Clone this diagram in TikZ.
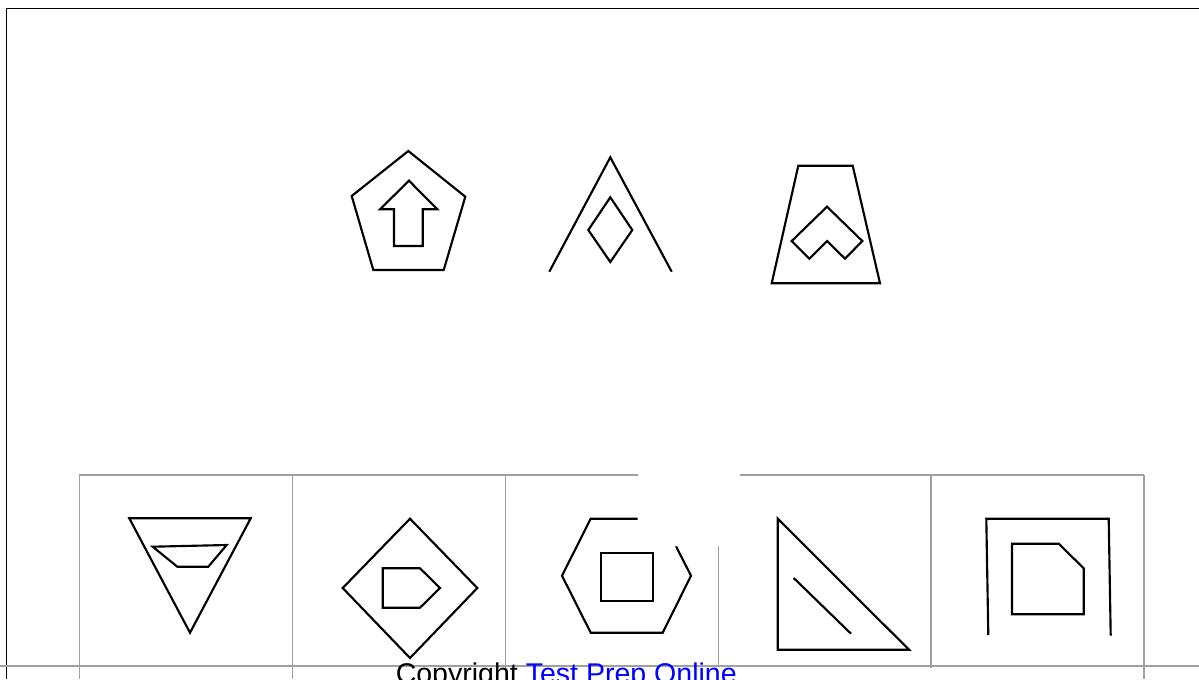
\documentclass[tikz,border=0pt]{standalone}
\usepackage{fontspec}
\setmainfont{Liberation Sans}
\definecolor{gridgray}{RGB}{160,160,160}
\definecolor{linkblue}{RGB}{0,0,255}
\begin{document}
\begin{tikzpicture}[x=0.75pt,y=-0.75pt,
  figline/.style={line width=1.6pt, line join=miter},
  gridline/.style={gridgray, line width=1.5pt},
  cellline/.style={gridgray, line width=0.8pt}]
  \useasboundingbox (0,0) rectangle (1199,679);
  \clip (0,0) rectangle (1199,679);

  % Frame
  \draw[line width=1pt] (6.7,679) -- (6.7,8.5) -- (1199,8.5);

  % Question row
  \draw[figline] (408.3,151) -- (465.3,196.7) -- (443.7,270) -- (373.3,270) -- (351.7,196) -- cycle;
  \draw[figline] (409,180.7) -- (437.3,209.3) -- (422.7,209.3) -- (422.7,246) -- (394,246) -- (394,209.3) -- (380,209.3) -- cycle;
  \draw[figline] (549.3,271.7) -- (610.3,157.3) -- (671.7,271.7);
  \draw[figline] (610.3,197.3) -- (632.3,230) -- (610.3,262) -- (588.3,230) -- cycle;
  \draw[figline] (798.3,165.7) -- (852.7,165.7) -- (880,283.3) -- (771.7,283.3) -- cycle;
  \draw[figline] (827,206.7) -- (862.3,241) -- (845,258.7) -- (827,241) -- (809.3,258.7) -- (791.7,241) -- cycle;

  % Answer cells
  \draw[gridline] (79.3,474.7) -- (637.7,474.7);
  \draw[gridline] (740,474.7) -- (1144,474.7);
  \draw[gridline] (0,665.7) -- (1199,665.7);
  \foreach \x in {79.3, 292.7, 505.7, 1144}
    \draw[cellline] (\x,474.7) -- (\x,679);
  \draw[cellline] (931,474.7) -- (931,668);
  \draw[cellline] (718.3,546) -- (718.3,665.7);

  % Answer figures
  \draw[figline] (129.3,518.3) -- (250.7,518.3) -- (190,632.7) -- cycle;
  \draw[figline] (152.7,546.7) -- (226.7,545) -- (208.3,566.7) -- (177.3,566.7) -- cycle;
  \draw[figline] (410,518.7) -- (477.3,588) -- (410,658) -- (342.7,588) -- cycle;
  \draw[figline] (382.7,568.3) -- (420,568.3) -- (440,588) -- (420,607.7) -- (382.7,607.7) -- cycle;
  \draw[figline] (637.7,518.7) -- (590.7,518.7) -- (562,575.7) -- (590.7,632.7) -- (662.7,632.7) -- (691,575.7) -- (676,546.3);
  \draw[figline] (601.3,552.7) rectangle (653,601);
  \draw[figline] (777.7,518.7) -- (909,649.7) -- (777.7,649.7) -- cycle;
  \draw[figline] (793.7,578) -- (851,633.7);
  \draw[figline] (988.3,635) -- (986.3,518.7) -- (1108.7,518.7) -- (1110.7,635.7);
  \draw[figline] (1012,543.7) -- (1058.7,543.7) -- (1083.7,568.3) -- (1083.7,614.3) -- (1012,614.3) -- cycle;

  % Copyright
  \node[anchor=base west, inner sep=0pt, font=\fontsize{21.4}{25}\selectfont] (copyright) at (395.5,683.4)
    {Copyright \textcolor{linkblue}{Test Prep Online}};
\end{tikzpicture}
\end{document}
